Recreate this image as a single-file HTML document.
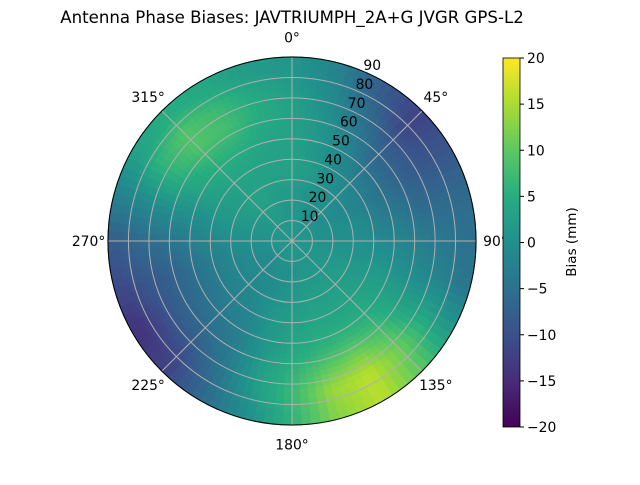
<!DOCTYPE html>
<html><head><meta charset="utf-8"><style>
body{margin:0;background:#fff;}
svg text{font-family:"DejaVu Sans","Liberation Sans",sans-serif;}
</style></head><body>
<svg id="chart" width="640" height="480" viewBox="0 0 640 480">
<text x="292" y="23" text-anchor="middle" font-size="16.6">Antenna Phase Biases: JAVTRIUMPH_2A+G JVGR GPS-L2</text>
<g id="cells"></g><g id="grid"></g><g id="labels"></g>
<defs><linearGradient id="vir" x1="0" y1="1" x2="0" y2="0">
<stop offset="0" stop-color="#440154"/><stop offset="0.125" stop-color="#472c7a"/><stop offset="0.25" stop-color="#3b518b"/><stop offset="0.375" stop-color="#2c718e"/><stop offset="0.5" stop-color="#21908d"/><stop offset="0.625" stop-color="#27ad81"/><stop offset="0.75" stop-color="#5cc863"/><stop offset="0.875" stop-color="#aadc32"/><stop offset="1" stop-color="#fde725"/></linearGradient></defs>
<rect x="503" y="58" width="17" height="369" fill="url(#vir)" stroke="#000" stroke-width="0.8"/>
<g id="cbticks"></g>
<text transform="translate(576,242) rotate(-90)" text-anchor="middle" font-size="13.5">Bias (mm)</text>
</svg>
<script>
const azimuths=[0,15,30,45,60,75,90,105,120,135,150,165,180,195,210,225,240,255,270,285,300,315,330,345];
const zeniths=[5,15,25,35,45,55,65,75,85];
const z5 =[1,1,1,1,1,1,1,1,1,1,1,1,1,1,1,1,1,1,1,1,1,1,1,1];
const z15=[1,1,0,0,0,0,0,1,1,1,1,1,0,0,0,-1,-1,0,0,1,1,2,2,1];
const z25=[2,1,0,0,-1,0,0,1,2,2,2,2,1,0,-1,-1,-1,-1,0,1,2,3,3,2];
const z35=[3,2,0,-1,-2,-1,0,1,2,3,3,3,2,1,-1,-2,-2,-2,-1,1,2,3,3,3];
const z45=[3,1,-1,-3,-4,-3,-1,1,3,4,4,4,3,1,-2,-3,-4,-4,-2,0,3,4,4,3];
const z55=[3,1,-2,-6,-6,-4,-2,0,3,6,7,6,4,1,-3,-5,-6,-6,-4,0,4,6,6,4];
const z65=[3,0,-4,-8,-8,-6,-3,-1,3,9,12,10,6,2,-4,-7,-8,-8,-5,0,6,9,8,5];
const z75=[2,-1,-6,-11,-9,-6,-4,-2,4,11,16,14,7,2,-5,-10,-11,-9,-6,-1,6,9,7,4];
const z85=[1,-2,-8,-12,-9,-6,-5,-4,2,10,16,13,6,0,-6,-12,-14,-11,-8,-2,3,5,4,2];
const rings=[z5,z15,z25,z35,z45,z55,z65,z75,z85];
const cbTicks=[-20,-15,-10,-5,0,5,10,15,20];
const rTicks=[10,20,30,40,50,60,70,80,90];
const thetaTicks=[0,45,90,135,180,225,270,315];

const NS="http://www.w3.org/2000/svg";
const cx=292,cy=241,R=184,vmin=-20,vmax=20;
const rScale=z=>z/90*R;
const pt=(az,z)=>{const a=az*Math.PI/180,r=rScale(z);return [cx+r*Math.sin(a),cy-r*Math.cos(a)];};
const stops=[[68,1,84],[71,44,122],[59,81,139],[44,113,142],[33,144,141],[39,173,129],[92,200,99],[170,220,50],[253,231,37]];
function color(v){let t=(v-vmin)/(vmax-vmin);t=Math.max(0,Math.min(1,t))*8;const i=Math.min(7,Math.floor(t)),f=t-i;const a=stops[i],b=stops[i+1];return `rgb(${Math.round(a[0]+(b[0]-a[0])*f)},${Math.round(a[1]+(b[1]-a[1])*f)},${Math.round(a[2]+(b[2]-a[2])*f)})`;}
function val(az,z){
  const n=azimuths.length,step=360/n;
  let ai=((az%360)+360)%360/step;const i0=Math.floor(ai)%n,i1=(i0+1)%n,fa=ai-Math.floor(ai);
  let zi=(z-zeniths[0])/10;zi=Math.max(0,Math.min(zeniths.length-1,zi));
  const j0=Math.min(zeniths.length-2,Math.floor(zi)),fz=zi-j0;
  const r0=rings[j0][i0]*(1-fa)+rings[j0][i1]*fa,r1=rings[j0+1][i0]*(1-fa)+rings[j0+1][i1]*fa;
  return r0*(1-fz)+r1*fz;
}
const cells=document.getElementById('cells');
const dA=3,dZ=2.5;
for(let z=0;z<90;z+=dZ){for(let az=0;az<360;az+=dA){
  const p=document.createElementNS(NS,'path');
  const a=pt(az,z),b=pt(az+dA+0.3,z),c=pt(az+dA+0.3,z+dZ+0.2),d=pt(az,z+dZ+0.2);
  p.setAttribute('d',`M${a}L${b}L${c}L${d}Z`);
  const col=color(val(az+dA/2,z+dZ/2));
  p.setAttribute('fill',col);p.setAttribute('stroke',col);p.setAttribute('stroke-width','0.4');
  
  
  cells.appendChild(p);
}}
const grid=document.getElementById('grid'),labels=document.getElementById('labels');
rTicks.forEach(t=>{
  const c=document.createElementNS(NS,'circle');
  c.setAttribute('cx',cx);c.setAttribute('cy',cy);c.setAttribute('r',rScale(t));
  c.setAttribute('fill','none');c.setAttribute('stroke',t===90?'#000':'#b0b0b0');c.setAttribute('stroke-width','1');
  
  
  grid.appendChild(c);
  const p=pt(22.5,t),tx=document.createElementNS(NS,'text');
  tx.setAttribute('x',p[0]+1);tx.setAttribute('y',p[1]-1);tx.setAttribute('font-size','13.9');tx.setAttribute('text-anchor','start');
  tx.textContent=t;
  
  
  labels.appendChild(tx);
});
thetaTicks.forEach(t=>{
  const e=pt(t,90),l=document.createElementNS(NS,'line');
  l.setAttribute('x1',cx);l.setAttribute('y1',cy);l.setAttribute('x2',e[0]);l.setAttribute('y2',e[1]);
  l.setAttribute('stroke','#b0b0b0');l.setAttribute('stroke-width','1');
  
  
  grid.insertBefore(l,grid.firstChild);
  const q=pt(t,90+9.5),tx=document.createElementNS(NS,'text');
  tx.setAttribute('x',q[0]);tx.setAttribute('y',q[1]+5);tx.setAttribute('font-size','13.9');tx.setAttribute('text-anchor','middle');
  tx.textContent=t+'°';
  
  
  labels.appendChild(tx);
});
const cb=document.getElementById('cbticks');
cbTicks.forEach(t=>{
  const y=427-(t-vmin)/(vmax-vmin)*369;
  const l=document.createElementNS(NS,'line');
  l.setAttribute('x1',520);l.setAttribute('x2',524);l.setAttribute('y1',y);l.setAttribute('y2',y);l.setAttribute('stroke','#000');
  
  
  cb.appendChild(l);
  const tx=document.createElementNS(NS,'text');
  tx.setAttribute('x',527);tx.setAttribute('y',y+5);tx.setAttribute('font-size','13.9');
  tx.textContent=String(t).replace('-','\u2212');
  
  
  cb.appendChild(tx);
});
</script>
</body></html>
